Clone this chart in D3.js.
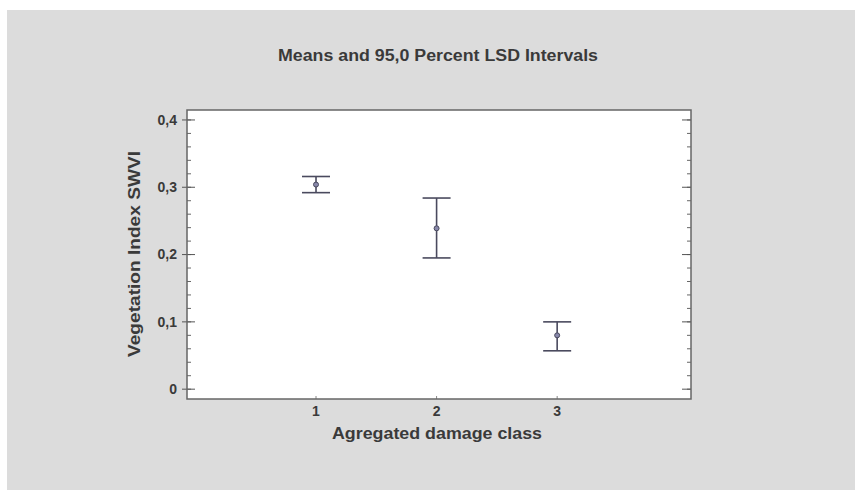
<!DOCTYPE html>
<html>
<head>
<meta charset="utf-8">
<script src="https://cdn.jsdelivr.net/npm/d3@7"></script>
<style>
  body { margin: 0; background: #fff; }
  text { font-family: "Liberation Sans", Arial, sans-serif; font-weight: bold; fill: #3a3a3a; }
</style>
</head>
<body>
<script>
// damage classes and LSD interval values
var classes = [1, 2, 3];
var means = [0.304, 0.239, 0.080];
var lower = [0.292, 0.195, 0.057];
var upper = [0.316, 0.284, 0.100];
var yTicks = [0, 0.1, 0.2, 0.3, 0.4];

var width = 855, height = 490;
var plot = { left: 187, top: 110, right: 691, bottom: 399 };

var svg = d3.select("body").append("svg")
  .attr("width", width)
  .attr("height", height);

// grey panel
svg.append("rect")
  .attr("x", 7).attr("y", 10)
  .attr("width", width - 7).attr("height", height - 10)
  .attr("fill", "#dcdcdc");

var x = d3.scaleLinear().domain([-0.07, 4.11]).range([plot.left, plot.right]);
var y = d3.scaleLinear().domain([-0.0146, 0.4148]).range([plot.bottom, plot.top]);
var fmt = function (d) { return d === 0 ? "0" : d3.format(".1f")(d).replace(".", ","); };

svg.append("rect")
  .attr("x", plot.left).attr("y", plot.top)
  .attr("width", plot.right - plot.left).attr("height", plot.bottom - plot.top)
  .attr("fill", "#fff");

// minor ticks every 0.02
var minor = d3.range(0, 0.401, 0.02);

var left = svg.append("g").attr("transform", "translate(" + plot.left + ",0)");
left.selectAll(".minor").data(minor).enter().append("line")
  .attr("x1", 0).attr("x2", 4)
  .attr("y1", function (d) { return y(d); })
  .attr("y2", function (d) { return y(d); })
  .attr("stroke", "#666");
left.selectAll(".major").data(yTicks).enter().append("line")
  .attr("x1", -5).attr("x2", 8)
  .attr("y1", function (d) { return y(d); })
  .attr("y2", function (d) { return y(d); })
  .attr("stroke", "#555");
left.selectAll("text").data(yTicks).enter().append("text")
  .attr("x", -10)
  .attr("y", function (d) { return y(d); })
  .attr("dy", "0.35em")
  .attr("text-anchor", "end")
  .style("font-size", "14px")
  .text(fmt);

var right = svg.append("g").attr("transform", "translate(" + plot.right + ",0)");
right.selectAll(".minor").data(minor).enter().append("line")
  .attr("x1", 0).attr("x2", -4)
  .attr("y1", function (d) { return y(d); })
  .attr("y2", function (d) { return y(d); })
  .attr("stroke", "#666");
right.selectAll(".major").data(yTicks).enter().append("line")
  .attr("x1", 0).attr("x2", -9)
  .attr("y1", function (d) { return y(d); })
  .attr("y2", function (d) { return y(d); })
  .attr("stroke", "#555");

// x ticks
var bottom = svg.append("g").attr("transform", "translate(0," + plot.bottom + ")");
bottom.selectAll("line").data(classes).enter().append("line")
  .attr("x1", function (d) { return x(d); })
  .attr("x2", function (d) { return x(d); })
  .attr("y1", 0).attr("y2", -3)
  .attr("stroke", "#888");
bottom.selectAll("text").data(classes).enter().append("text")
  .attr("x", function (d) { return x(d); })
  .attr("y", 17)
  .attr("text-anchor", "middle")
  .style("font-size", "14px")
  .text(function (d) { return d; });

// frame
svg.append("rect")
  .attr("x", plot.left).attr("y", plot.top)
  .attr("width", plot.right - plot.left).attr("height", plot.bottom - plot.top)
  .attr("fill", "none")
  .attr("stroke", "#666")
  .attr("stroke-width", 1.5);

// error bars
var bars = svg.append("g").selectAll("g").data(classes).enter().append("g")
  .attr("stroke", "#4a4a5e")
  .attr("stroke-width", 1.6);
bars.append("line")
  .attr("x1", function (d) { return x(d); })
  .attr("x2", function (d) { return x(d); })
  .attr("y1", function (d, i) { return y(upper[i]); })
  .attr("y2", function (d, i) { return y(lower[i]); });
bars.append("line")
  .attr("x1", function (d) { return x(d) - 14; })
  .attr("x2", function (d) { return x(d) + 14; })
  .attr("y1", function (d, i) { return y(upper[i]); })
  .attr("y2", function (d, i) { return y(upper[i]); });
bars.append("line")
  .attr("x1", function (d) { return x(d) - 14; })
  .attr("x2", function (d) { return x(d) + 14; })
  .attr("y1", function (d, i) { return y(lower[i]); })
  .attr("y2", function (d, i) { return y(lower[i]); });
bars.append("circle")
  .attr("cx", function (d) { return x(d); })
  .attr("cy", function (d, i) { return y(means[i]); })
  .attr("r", 2.5)
  .attr("fill", "#8888aa")
  .attr("stroke-width", 1);

// titles
svg.append("text")
  .attr("x", 438).attr("y", 61)
  .attr("text-anchor", "middle")
  .attr("textLength", 320)
  .attr("lengthAdjust", "spacingAndGlyphs")
  .style("font-size", "16px")
  .text("Means and 95,0 Percent LSD Intervals");

svg.append("text")
  .attr("x", 437).attr("y", 439)
  .attr("text-anchor", "middle")
  .attr("textLength", 210)
  .attr("lengthAdjust", "spacingAndGlyphs")
  .style("font-size", "17px")
  .text("Agregated damage class");

svg.append("text")
  .attr("transform", "translate(140,254)rotate(-90)")
  .attr("text-anchor", "middle")
  .attr("textLength", 206)
  .attr("lengthAdjust", "spacingAndGlyphs")
  .style("font-size", "17px")
  .text("Vegetation Index SWVI");
</script>
</body>
</html>
